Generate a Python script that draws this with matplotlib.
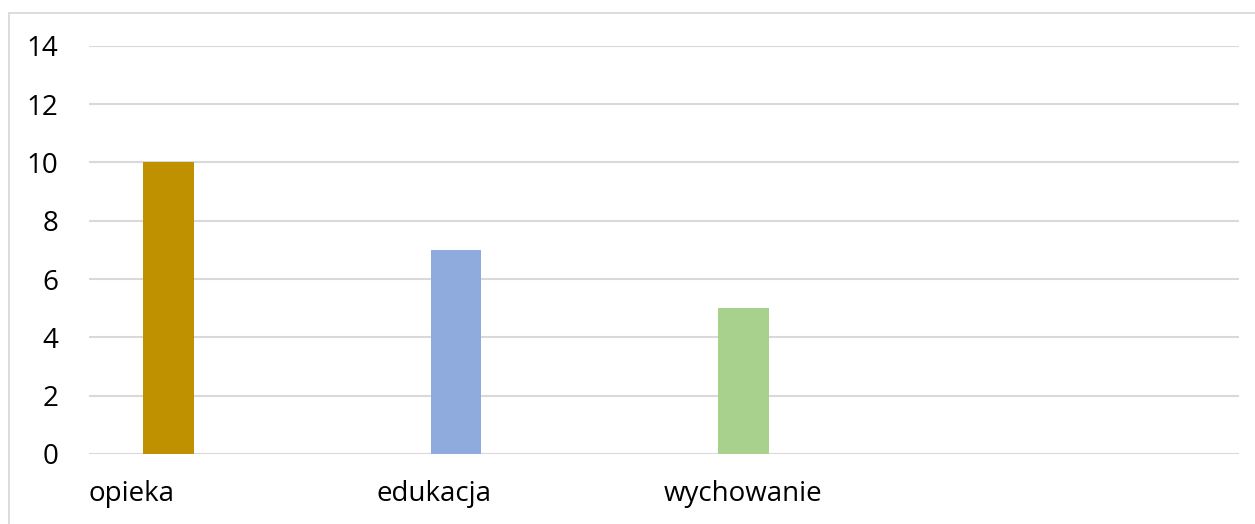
import matplotlib
matplotlib.use("Agg")
import matplotlib.pyplot as plt
from matplotlib.patches import Rectangle
import numpy as np

categories = ["opieka", "edukacja", "wychowanie"]
values = [10, 7, 5]
colors = ["#BF9000", "#8FAADC", "#A9D18E"]
yticks = [0, 2, 4, 6, 8, 10, 12, 14]

plt.rcParams['font.family'] = ['Open Sans', 'DejaVu Sans']

W, H = 1255, 524
fig = plt.figure(figsize=(W / 100, H / 100), dpi=100)
fig.patches.append(Rectangle((9 / W, -0.1), 1.2, 1 - 13 / H + 0.1,
                             transform=fig.transFigure, fill=False,
                             edgecolor="#D9D9D9", linewidth=1.3))

ax = fig.add_axes([89 / W, 1 - 454 / H, (1239 - 89) / W, (454 - 45.7) / H])
n_slots = 4
x = np.arange(len(categories))
ax.bar(x + 0.2765, values, width=0.177, color=colors, zorder=3)

ax.set_xlim(0, n_slots)
ax.set_ylim(0, 14)
ax.set_yticks(yticks)
ax.set_yticklabels([str(v) for v in yticks])
ax.set_xticks(x)
ax.set_xticklabels(categories, ha="left")
ax.tick_params(axis="both", length=0, labelsize=20, colors="black")
ax.tick_params(axis="y", pad=22)
ax.tick_params(axis="x", pad=19)
for s in ax.spines.values():
    s.set_visible(False)
ax.grid(axis="y", color="#D9D9D9", linewidth=1.5, zorder=0)
ax.set_axisbelow(True)

fig.savefig("out.png", dpi=100)
